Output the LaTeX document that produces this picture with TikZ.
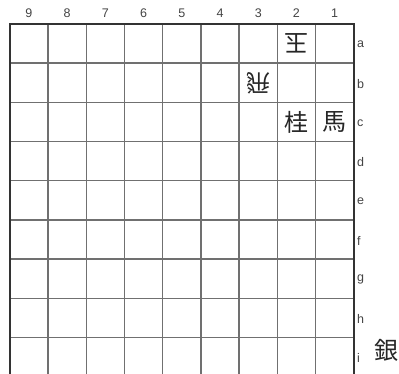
\documentclass[tikz,border=0pt]{standalone}
\usepackage{fontspec}
\setmainfont{Liberation Sans}
\newfontfamily\cjk{Noto Sans CJK JP}
\definecolor{gridc}{HTML}{707070}
\definecolor{borderc}{HTML}{333333}
\definecolor{labc}{HTML}{444444}
\begin{document}
\begin{tikzpicture}[x=1pt,y=-1pt,
  lab/.style={font=\fontsize{12.5}{12.5}\selectfont, text=labc, inner sep=0pt},
  piece/.style={font=\cjk\fontsize{24}{24}\selectfont, text=black!85, inner sep=0pt}]
\useasboundingbox[fill=white] (0,0) rectangle (399,374);
\def\L{9.8}\def\T{24}\def\W{38.22}\def\H{39.2}
% inner grid lines
\foreach \i in {1,...,8} {
  \draw[gridc, line width=1.4pt] ({\L+\i*\W},\T) -- ({\L+\i*\W},{\T+9*\H});
  \draw[gridc, line width=1.4pt] (\L,{\T+\i*\H}) -- ({\L+9*\W},{\T+\i*\H});
}
% outer border
\draw[borderc, line width=2.2pt] (\L,{\T+9*\H}) -- (\L,\T) -- ({\L+9*\W},\T) -- ({\L+9*\W},{\T+9*\H});
% column numbers
\foreach \n [count=\k from 0] in {9,8,7,6,5,4,3,2,1}
  \node[lab] (col\n) at ({\L+(\k+0.5)*\W},13.5) {\n};
% row letters
\foreach \r [count=\k from 0] in {a,b,c,d,e,f,g,h,i}
  \node[lab, anchor=west] (row\r) at (357,{\T+(\k+0.5)*\H+1}) {\r};
% pieces
\node[piece, rotate=180] (gyoku) at ({\L+7.5*\W},{\T+0.5*\H}) {玉};
\node[piece, rotate=180] (hisha) at ({\L+6.5*\W},{\T+1.5*\H}) {飛};
\node[piece] (kei) at ({\L+7.5*\W},{\T+2.5*\H}) {桂};
\node[piece] (uma) at ({\L+8.5*\W},{\T+2.5*\H}) {馬};
% piece in hand
\node[piece] (gin) at (386.5,350) {銀};
\end{tikzpicture}
\end{document}
